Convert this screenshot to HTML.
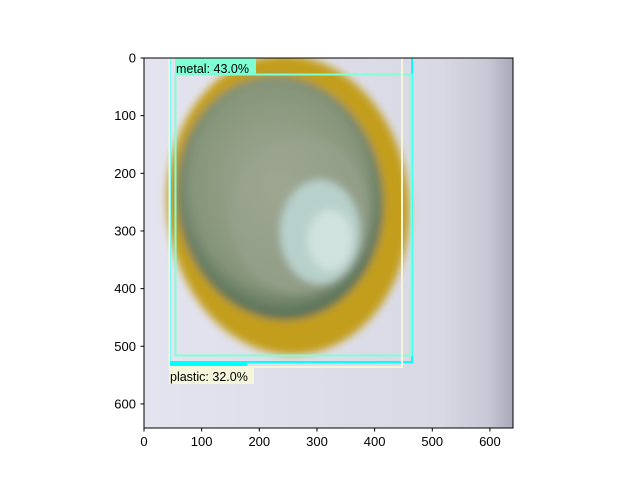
<!DOCTYPE html>
<html><head><meta charset="utf-8"><style>
body{margin:0;background:#fff;}
svg text{font-family:"Liberation Sans",sans-serif;}
</style></head><body>
<svg width="640" height="480" viewBox="0 0 640 480">
<defs>
<clipPath id="ax"><rect x="144" y="58" width="369" height="370"/></clipPath>
<filter id="bl" x="-20%" y="-20%" width="140%" height="140%"><feGaussianBlur stdDeviation="4"/></filter>
<linearGradient id="bg" x1="0" x2="1" y1="0" y2="0">
<stop offset="0" stop-color="#e4e4f0"/><stop offset="0.8" stop-color="#d9d9e5"/><stop offset="0.93" stop-color="#c8c8d6"/><stop offset="1" stop-color="#a8a8b8"/></linearGradient>
<radialGradient id="grn" cx="0.5" cy="0.45" r="0.6">
<stop offset="0" stop-color="#a2aa94"/><stop offset="0.7" stop-color="#86957a"/><stop offset="1" stop-color="#3f5e44"/></radialGradient>
</defs>
<g clip-path="url(#ax)">
<rect x="144" y="58" width="369" height="370" fill="url(#bg)"/>
<g filter="url(#bl)">
<ellipse cx="288" cy="205" rx="121" ry="150" fill="#c39e1f" transform="rotate(-5 288 205)"/>
<ellipse cx="280" cy="198" rx="103" ry="122" fill="url(#grn)" transform="rotate(-8 280 198)"/>
<ellipse cx="300" cy="215" rx="70" ry="80" fill="#9aa490" opacity="0.6"/>
<ellipse cx="320" cy="232" rx="40" ry="52" fill="#b8d0cb"/>
<ellipse cx="330" cy="240" rx="22" ry="30" fill="#d0e2de"/>
</g>
</g>
<g clip-path="url(#ax)" fill="none">
<rect x="170" y="40" width="242" height="322" stroke="#00ffff" stroke-width="2"/>
<rect x="175.5" y="74.5" width="236" height="281" stroke="#7fffd4" stroke-width="2"/>
<rect x="169.5" y="40" width="232.5" height="327" stroke="#f5f5dc" stroke-width="2"/>
<rect x="170" y="361" width="77" height="5" fill="#00ffff"/>
</g>
<rect x="175" y="58" width="81" height="16" fill="#7fffd4"/>
<text x="176" y="73" font-size="12.5" fill="#000">metal: 43.0%</text>
<rect x="169" y="367" width="85" height="17" fill="#f5f5dc"/>
<text x="170" y="381" font-size="12.5" fill="#000">plastic: 32.0%</text>
<rect x="144" y="58" width="369" height="370" fill="none" stroke="#000" stroke-width="1"/>
<g id="ticks"></g>
</svg>
<script>
const xTicks=[0,100,200,300,400,500,600];
const yTicks=[0,100,200,300,400,500,600];
const sx=v=>144+v*369/640, sy=v=>58+v*369/640;
const g=document.getElementById('ticks');
const ns='http://www.w3.org/2000/svg';
xTicks.forEach(t=>{
 const l=document.createElementNS(ns,'line');
 l.setAttribute('x1',sx(t));l.setAttribute('x2',sx(t));l.setAttribute('y1',428);l.setAttribute('y2',431.5);l.setAttribute('stroke','#000');
 
 
 g.appendChild(l);
 const tx=document.createElementNS(ns,'text');
 tx.setAttribute('x',sx(t));tx.setAttribute('y',446);tx.setAttribute('text-anchor','middle');tx.setAttribute('font-size','13');
 tx.textContent=t;
 
 
 g.appendChild(tx);
});
yTicks.forEach(t=>{
 const l=document.createElementNS(ns,'line');
 l.setAttribute('x1',140.5);l.setAttribute('x2',144);l.setAttribute('y1',sy(t));l.setAttribute('y2',sy(t));l.setAttribute('stroke','#000');
 
 
 g.appendChild(l);
 const tx=document.createElementNS(ns,'text');
 tx.setAttribute('x',136);tx.setAttribute('y',sy(t)+4.5);tx.setAttribute('text-anchor','end');tx.setAttribute('font-size','13');
 tx.textContent=t;
 
 
 g.appendChild(tx);
});
</script>
</body></html>
